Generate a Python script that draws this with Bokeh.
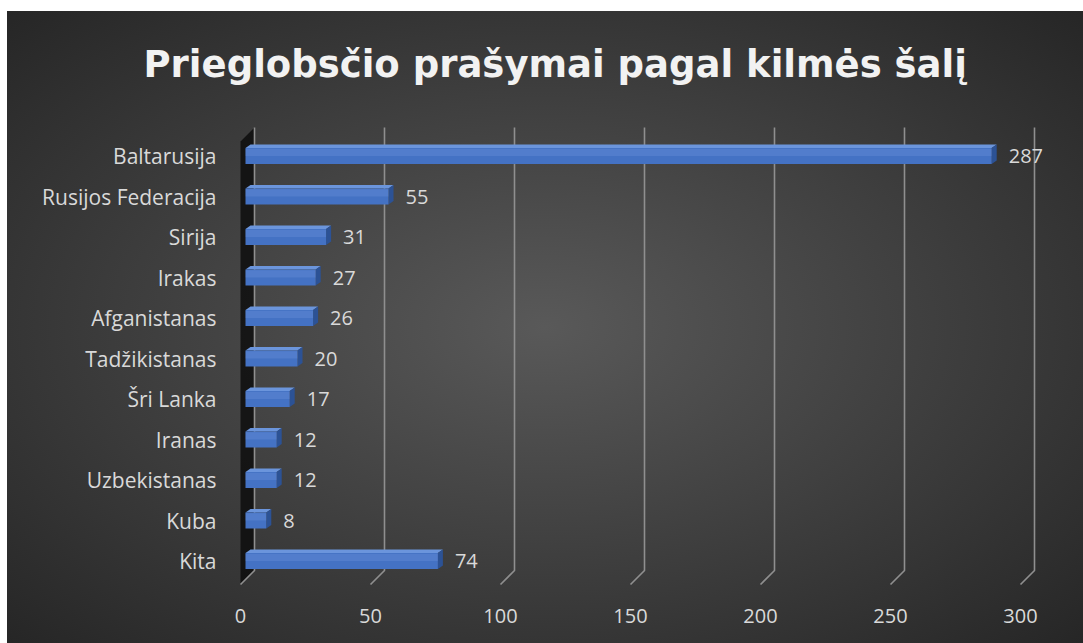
from bokeh.plotting import figure
from bokeh.models import Range1d, LinearAxis, FixedTicker, Title, ColumnDataSource
from bokeh.core.properties import value
from bokeh.embed import file_html
from bokeh.resources import INLINE

# ---- data ----
categories = ["Baltarusija", "Rusijos Federacija", "Sirija", "Irakas", "Afganistanas",
              "Tadžikistanas", "Šri Lanka", "Iranas", "Uzbekistanas", "Kuba", "Kita"]
counts = [287, 55, 31, 27, 26, 20, 17, 12, 12, 8, 74]
x_ticks = [0, 50, 100, 150, 200, 250, 300]
title_text = "Prieglobsčio prašymai pagal kilmės šalį"

# ---- geometry / style constants (pixels) ----
W, H_FIG = 1083, 643
PX_X = 2.6            # px per value unit
PX_Y = 40.5           # px per category slot
ZERO_X = 245          # page x of value 0 (bar front)
FRAME_L, FRAME_R, FRAME_T, FRAME_B = 238, 1065, 118, 596
KITA_Y = 560.5        # page y of the last category centre
BACK_DX = 9 / PX_X    # 3-D depth of the back wall
FLOOR_DX = -5 / PX_X  # floor front edge offset
FONT = "Open Sans"
TXT = "#d9d9d9"
n = len(categories)


def ux(page_x):
    return (page_x - ZERO_X) / PX_X


def uy(page_y):
    return (KITA_Y - page_y) / PX_Y


x_start, x_end = ux(FRAME_L), ux(FRAME_R)
p = figure(width=W, height=H_FIG, output_backend="svg", toolbar_location=None,
           x_range=Range1d(x_start, x_end), y_range=Range1d(uy(FRAME_B), uy(FRAME_T)),
           min_border_left=FRAME_L, min_border_right=W - FRAME_R,
           min_border_top=FRAME_T, min_border_bottom=H_FIG - FRAME_B)
p.extra_x_ranges = {"floor": Range1d(x_start - FLOOR_DX, x_end - FLOOR_DX)}

p.border_fill_color = None
p.background_fill_color = None
p.outline_line_color = None
p.styles = {"background": "radial-gradient(ellipse at 50% 50%, #595959 0%, #3d3d3d 55%, #262626 100%) "
                          "7px 11px / 1076px 632px no-repeat, #ffffff"}
p.grid.visible = False
p.xaxis.visible = False

p.title = Title(text=title_text, align="left", offset=143 - FRAME_L, standoff=66,
                text_font="DejaVu Sans", text_font_style="bold", text_font_size="37px",
                text_color="#f2f2f2")

floor_axis = LinearAxis(x_range_name="floor", ticker=FixedTicker(ticks=x_ticks))
floor_axis.axis_line_color = None
floor_axis.major_tick_line_color = None
floor_axis.minor_tick_line_color = None
floor_axis.major_label_text_color = TXT
floor_axis.major_label_text_font = FONT
floor_axis.major_label_text_font_size = "20px"
floor_axis.major_label_standoff = 6
p.add_layout(floor_axis, "below")

pos = [n - 1 - i for i in range(n)]   # Baltarusija on top
p.yaxis.ticker = FixedTicker(ticks=pos)
p.yaxis.major_label_overrides = {k: c for k, c in zip(pos, categories)}
p.yaxis.axis_line_color = None
p.yaxis.major_tick_line_color = None
p.yaxis.minor_tick_line_color = None
p.yaxis.major_label_text_color = TXT
p.yaxis.major_label_text_font = FONT
p.yaxis.major_label_text_font_size = "21px"
p.yaxis.major_label_standoff = 16

g_top, g_bot, g_floor = uy(127), uy(570), uy(584)

# side wall
p.patch([FLOOR_DX, BACK_DX, BACK_DX, FLOOR_DX],
        [uy(141), g_top, g_bot, g_floor],
        fill_color="#0a0a0a", fill_alpha=0.8, line_color=None)

# gridlines (back wall verticals + floor diagonals)
p.multi_line(xs=[[t + BACK_DX, t + BACK_DX, t + FLOOR_DX] for t in x_ticks],
             ys=[[g_top, g_bot, g_floor] for _ in x_ticks],
             line_color="#8f8f8f", line_width=1.6)

# 3-D bars
HH = 16 / PX_Y / 2
DX = 5 / PX_X
DY = 3.5 / PX_Y
tops_x, tops_y, side_x, side_y = [], [], [], []
for c, v in zip(pos, counts):
    tops_x.append([0, v, v + DX, DX])
    tops_y.append([c + HH, c + HH, c + HH + DY, c + HH + DY])
    side_x.append([v, v + DX, v + DX, v])
    side_y.append([c - HH, c - HH + DY, c + HH + DY, c + HH])

p.patches(tops_x, tops_y, fill_color="#6b95dc", line_color=None)
p.patches(side_x, side_y, fill_color="#2c5295", line_color=None)
src = ColumnDataSource(dict(pos=pos, val=counts, hi=[c + HH * 0.45 for c in pos]))
p.hbar(y="pos", left=0, right="val", height=2 * HH, source=src,
       fill_color="#4472c4", line_color=None)
p.hbar(y="hi", left=0, right="val", height=HH * 0.9, source=src,
       fill_color="#7aa0e2", fill_alpha=0.25, line_color=None)

# data labels
p.text(x="val", y="pos", text="val", source=src, x_offset=17,
       text_baseline="middle", text_align="left", text_color=TXT,
       text_font=value(FONT), text_font_size="20px")

open("out.html", "w").write(file_html(p, INLINE))
